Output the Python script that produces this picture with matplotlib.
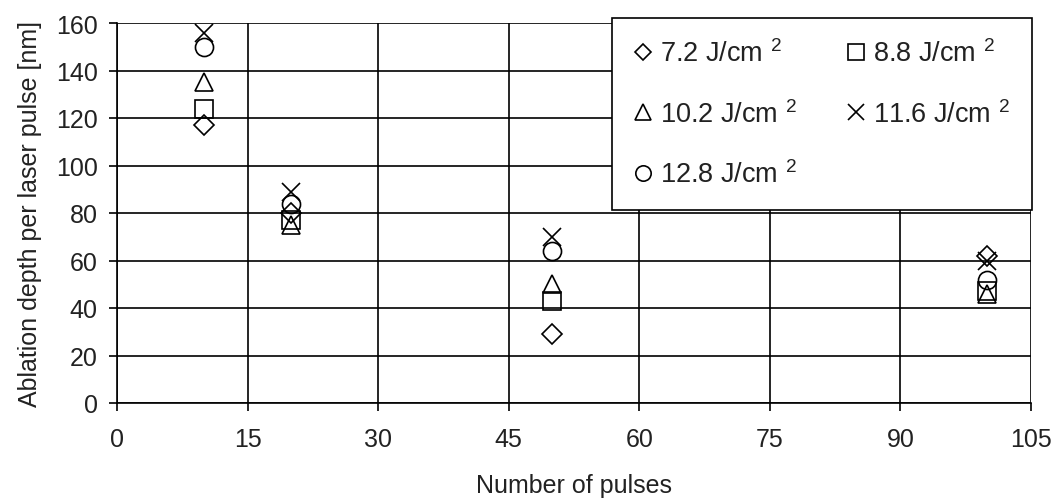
import matplotlib
matplotlib.use("Agg")
import matplotlib.pyplot as plt
import numpy as np

plt.rcParams['font.family'] = ['Liberation Sans', 'DejaVu Sans']
plt.rcParams['mathtext.default'] = 'regular'

# number of pulses
pulses = [10, 20, 50, 100]

# ablation depth per pulse [nm] for each fluence
depth_72 = [117, 80, 29, 62]
depth_88 = [124, 77, 43, 47]
depth_102 = [135, 75, 50, 46]
depth_116 = [156, 89, 70, 60]
depth_128 = [150, 84, 64, 52]

labels = ['7.2 J/cm $^{2}$', '8.8 J/cm $^{2}$', '10.2 J/cm $^{2}$',
          '11.6 J/cm $^{2}$', '12.8 J/cm $^{2}$']

x_ticks = [0, 15, 30, 45, 60, 75, 90, 105]
y_ticks = [0, 20, 40, 60, 80, 100, 120, 140, 160]

fig = plt.figure(figsize=(10.61, 5.02), dpi=100)
ax = fig.add_axes([117 / 1061, 1 - 404 / 502, 914 / 1061, 380 / 502])

style = dict(color='black', mfc='none', mec='black', linestyle='none', mew=1.2)
h72, = ax.plot(pulses, depth_72, marker='D', ms=10, **style)
h88, = ax.plot(pulses, depth_88, marker='s', ms=13, **style)
h102, = ax.plot(pulses, depth_102, marker='^', ms=13, **style)
h116, = ax.plot(pulses, depth_116, marker='x', ms=13, **style)
h128, = ax.plot(pulses, depth_128, marker='o', ms=13, **style)

ax.set_xlim(0, 105)
ax.set_ylim(0, 160)
ax.set_xticks(x_ticks)
ax.set_yticks(y_ticks)
ax.grid(True, color='black', linewidth=1.2)
ax.set_axisbelow(True)
for side in ['top', 'right']:
    ax.spines[side].set_visible(False)
for side in ['left', 'bottom']:
    ax.spines[side].set_linewidth(1.2)
ax.tick_params(direction='out', length=6, width=1.2, labelsize=18,
               colors='black', labelcolor='#222222')
ax.tick_params(axis='x', pad=11)
ax.tick_params(axis='y', pad=8)

ax.set_xlabel('Number of pulses', fontsize=18, labelpad=16, color='#222222')
ax.set_ylabel('Ablation depth per laser pulse [nm]', fontsize=18, labelpad=10,
              color='#222222')

# row-wise ordering in a 2-column legend
handles = [h72, h102, h128, h88, h116]
leg_labels = [labels[0], labels[2], labels[4], labels[1], labels[3]]
leg = fig.legend(handles, leg_labels, ncol=2, loc='upper right',
                 bbox_to_anchor=(1032 / 1061, 1 - 19 / 502),
                 fontsize=19.5, frameon=True, fancybox=False, framealpha=1,
                 edgecolor='black', borderpad=0.8, labelspacing=1.2,
                 handlelength=0.7, handletextpad=0.3, columnspacing=1.8,
                 borderaxespad=0, markerscale=0.85)
leg.get_frame().set_linewidth(1.2)
for t in leg.get_texts():
    t.set_color('#222222')

fig.savefig('out.png', dpi=100)
